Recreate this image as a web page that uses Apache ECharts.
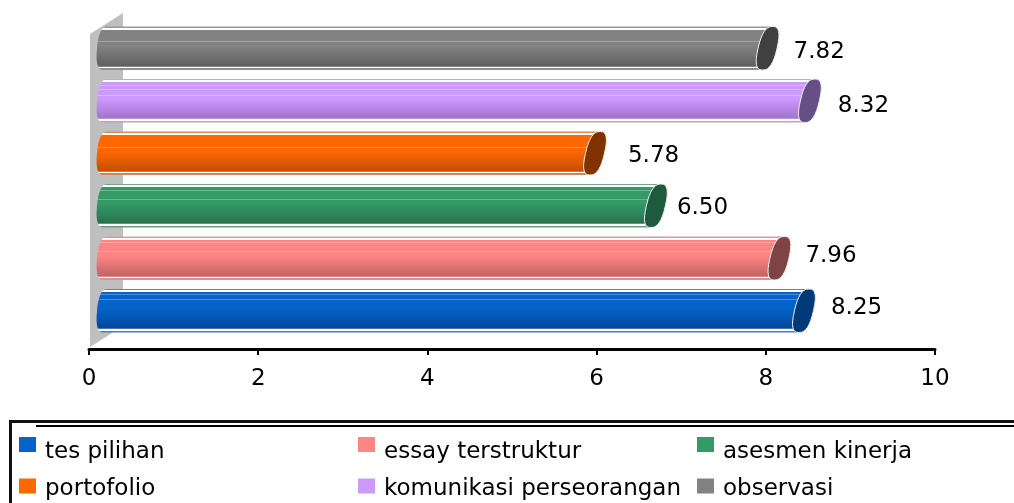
<!DOCTYPE html>
<html>
<head>
<meta charset="utf-8">
<style>
    html, body { margin: 0; padding: 0; background: #fff; }
    #main { width: 1014px; height: 503px; }
</style>
<script src="https://cdn.jsdelivr.net/npm/echarts@6/dist/echarts.min.js"></script>
</head>
<body>
<div id="main"></div>
<script>
var categories = ['tes pilihan', 'essay terstruktur', 'asesmen kinerja', 'portofolio', 'komunikasi perseorangan', 'observasi'];
var scores = [8.25, 7.96, 6.50, 5.78, 8.32, 7.82];
var tickStep = 2;
var tickMax = 10;

var bodyTop = ['#0563c9', '#ff8484', '#349a68', '#ff6800', '#cc99ff', '#828282'];
var bodyBottom = ['#00469c', '#c56464', '#28724f', '#c65000', '#a274cc', '#606060'];
var capColors = ['#003a78', '#804343', '#1d5a3e', '#803300', '#654f85', '#404040'];

// highlight lines on each tube, as fraction of its height
var stripes = [[0.12, 0.23], [0.13, 0.34], [0.14, 0.35], [0.35], [0.14, 0.23, 0.37], [0.33]];

// hand placed labels of the original, in px: [x from the cap, y from the bar centre]
var labelNudge = [[17, -4], [16, -3], [11, 1], [23, 2], [18, 4], [16, 3]];

var FONT = 'DejaVu Sans';
var DEPTH = 17;

/**
 * mix a hex color with white
 *
 * @param  {string} hex    color like #rrggbb
 * @param  {number} amount 0 keeps the color, 1 is white
 * @return {string} css color
 */
function lighten(hex, amount) {
    var out = [];
    for (var i = 1; i < 7; i += 2) {
        var c = parseInt(hex.substr(i, 2), 16);
        out.push(Math.round(c + (255 - c) * amount));
    }
    return 'rgb(' + out.join(',') + ')';
}

/**
 * banded fill of a tube, with the thin edge lines at top and bottom
 *
 * @param  {number} i series index
 * @return {Object} linear gradient
 */
function tubeFill(i) {
    var top = bodyTop[i];
    var bottom = bodyBottom[i];
    var stops = [
        [0, lighten(bottom, 0.35)], [0.035, lighten(bottom, 0.35)],
        [0.035, '#fff'], [0.07, '#fff'],
        [0.07, top]
    ];
    for (var n = 0; n < stripes[i].length; ++n) {
        var y = stripes[i][n];
        stops.push([y, top], [y, lighten(top, 0.28)], [y + 0.022, lighten(top, 0.28)], [y + 0.022, top]);
    }
    stops.push(
        [0.45, top],
        [0.9, bottom],
        [0.9, lighten(bottom, 0.25)], [0.925, lighten(bottom, 0.25)],
        [0.925, '#fff'], [0.955, '#fff'],
        [0.955, lighten(bottom, 0.3)], [1, lighten(bottom, 0.3)]
    );
    var colorStops = [];
    for (var s = 0; s < stops.length; ++s) {
        colorStops.push({offset: stops[s][0], color: stops[s][1]});
    }
    return {type: 'linear', x: 0, y: 0, x2: 0, y2: 1, colorStops: colorStops};
}

/**
 * outline of a leaning, slightly squared ellipse
 *
 * @param  {number} cx   center x
 * @param  {number} cy   center y
 * @param  {number} rx   horizontal radius
 * @param  {number} ry   vertical radius
 * @param  {number} lean x shift of the top point
 * @param  {number} from start angle
 * @param  {number} to   end angle
 * @return {number[][]} points
 */
function capPoints(cx, cy, rx, ry, lean, from, to) {
    var points = [];
    for (var k = 0; k <= 32; ++k) {
        var t = from + (to - from) * k / 32;
        var c = Math.cos(t);
        var s = Math.sin(t);
        var round = (c < 0 ? -1 : 1) * Math.pow(Math.abs(c), 0.75);
        var side = (s < 0 ? -1 : 1) * Math.pow(Math.abs(s), 0.8);
        points.push([cx + rx * round - lean * side, cy + ry * side]);
    }
    return points;
}

function renderTube(params, api) {
    var i = params.seriesIndex;
    var end = api.coord([api.value(0), api.value(1)]);
    var start = api.coord([0, api.value(1)]);
    var ry = api.size([0, 1])[1] * 0.415;
    var cy = end[1];
    var capX = end[0] + DEPTH;
    var leftX = start[0] + DEPTH;

    // left end bulges out, right end is covered by the cap
    var outline = capPoints(leftX, cy, 9, ry, 2, Math.PI * 0.5, Math.PI * 1.5)
        .concat(capPoints(capX, cy, 9.5, ry, 5, -Math.PI * 0.5, Math.PI * 0.5));

    var nudge = labelNudge[i];
    return {
        type: 'group',
        children: [{
            type: 'polygon',
            shape: {points: outline},
            style: {fill: tubeFill(i)}
        }, {
            type: 'polygon',
            shape: {points: capPoints(capX, cy, 9.5, ry, 5, 0, Math.PI * 2)},
            style: {fill: capColors[i], stroke: '#f2f2f2', lineWidth: 1}
        }, {
            type: 'text',
            x: capX + 10 + nudge[0],
            y: cy + nudge[1] + 1,
            style: {
                text: api.value(0).toFixed(2),
                fill: '#000',
                font: '23px "' + FONT + '"',
                align: 'left',
                verticalAlign: 'middle'
            }
        }]
    };
}

var series = [];
var legends = [];
for (var i = 0; i < categories.length; ++i) {
    series.push({
        type: 'custom',
        name: categories[i],
        coordinateSystem: 'cartesian2d',
        renderItem: renderTube,
        itemStyle: {color: bodyTop[i]},
        encode: {x: 0, y: 1},
        silent: true,
        data: [[scores[i], i]]
    });
    // first row text sits lower next to its swatch than the second row
    legends.push({
        data: [categories[i]],
        left: 19 + 339 * (i % 3),
        top: i < 3 ? 437 : 478,
        padding: 0,
        icon: 'rect',
        itemWidth: 17,
        itemHeight: 15,
        itemGap: 0,
        selectedMode: false,
        formatter: '{t|{name}}',
        textStyle: {
            rich: {
                t: {
                    color: '#000',
                    fontFamily: FONT,
                    fontSize: 23,
                    padding: [i < 3 ? 15 : 7, 0, 0, 4]
                }
            }
        }
    });
}

var chart = echarts.init(document.getElementById('main'), null, {renderer: 'canvas'});
chart.setOption({
    animation: false,
    backgroundColor: '#fff',
    grid: {left: 89, right: 79, top: 22, bottom: 166},
    xAxis: {
        type: 'value',
        min: 0,
        max: tickMax,
        interval: tickStep,
        offset: 12,
        axisLine: {show: true, lineStyle: {color: '#000', width: 3}},
        axisTick: {show: true, length: 6, lineStyle: {color: '#000', width: 2}},
        axisLabel: {color: '#000', fontFamily: FONT, fontSize: 23, margin: 19},
        splitLine: {show: false}
    },
    yAxis: {
        type: 'category',
        data: categories,
        show: false
    },
    legend: legends,
    graphic: [{
        // side wall behind the tubes and the legend frame
        type: 'polygon',
        z: 0,
        shape: {points: [[90, 34], [123, 13], [123, 326], [90, 347]]},
        style: {fill: '#bfbfbf'}
    }, {
        type: 'polyline',
        shape: {points: [[10.5, 503], [10.5, 421.5], [1014, 421.5]]},
        style: {fill: null, stroke: '#111', lineWidth: 3}
    }, {
        type: 'line',
        shape: {x1: 36, y1: 426, x2: 1014, y2: 426},
        style: {stroke: '#000', lineWidth: 2}
    }],
    series: series
});
</script>
</body>
</html>
